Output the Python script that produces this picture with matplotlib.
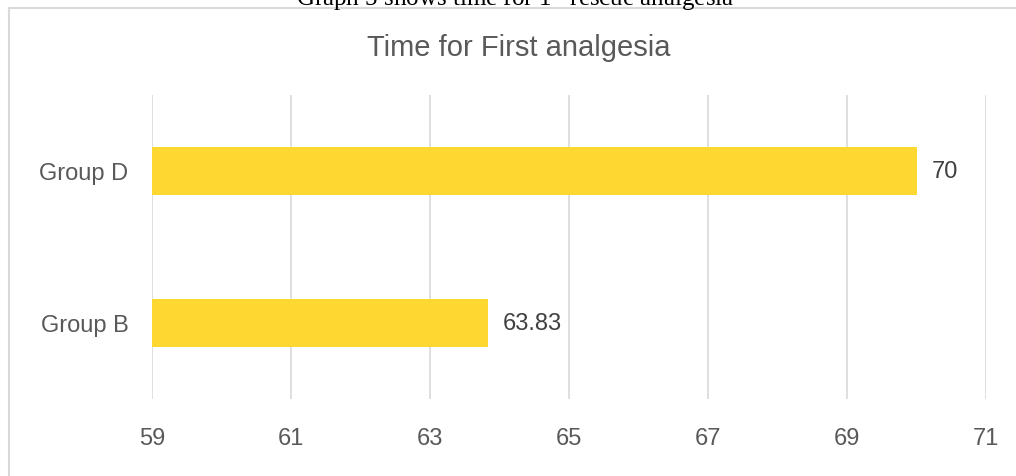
import matplotlib.pyplot as plt
from matplotlib.lines import Line2D

groups = ["Group B", "Group D"]
times = [63.83, 70]
value_labels = ["63.83", "70"]
x_ticks = [59, 61, 63, 65, 67, 69, 71]

W, H = 1016, 477
plt.rcParams["font.family"] = ["Liberation Sans", "DejaVu Sans"]
plt.rcParams["mathtext.fontset"] = "custom"
plt.rcParams["mathtext.rm"] = "Liberation Serif"
fig = plt.figure(figsize=(W / 100, H / 100), dpi=100)

# chart frame (partly cropped in the reference)
fig.add_artist(Line2D([9 / W, 9 / W], [0, 1 - 9 / H], transform=fig.transFigure,
                      color="#d9d9d9", lw=1.5))
fig.add_artist(Line2D([9 / W, 1], [1 - 9 / H, 1 - 9 / H], transform=fig.transFigure,
                      color="#d9d9d9", lw=1.5))

# caption from the document, cut off at the top in the reference
fig.text(515 / W, 1 - 6 / H, r"Graph 5 shows time for 1$^{\mathrm{st}}$ rescue analgesia",
         ha="center", va="baseline", fontsize=18, family="Liberation Serif",
         color="black")

ax = fig.add_axes([152 / W, 1 - 400 / H, (986 - 152) / W, (400 - 96) / H])
ax.barh(range(len(groups)), times, height=0.31, color="#FFD731", zorder=2)
ax.set_xlim(59, 71)
ax.set_ylim(-0.5, 1.5)
ax.set_xticks(x_ticks)
ax.set_yticks(range(len(groups)))
ax.set_yticklabels(groups)
ax.grid(axis="x", color="#d9d9d9", lw=1.2, zorder=0)
for s in ax.spines.values():
    s.set_visible(False)
ax.tick_params(length=0, labelsize=17, labelcolor="#595959")
ax.tick_params(axis="x", pad=20)
ax.tick_params(axis="y", pad=17)

for i, (v, lab) in enumerate(zip(times, value_labels)):
    ax.annotate(lab, (v, i), xytext=(11, 0), textcoords="offset points",
                ha="left", va="center", fontsize=17, color="#404040")

fig.text(519 / W, 1 - 48 / H, "Time for First analgesia", ha="center", va="center",
         fontsize=21, color="#595959")

fig.savefig("out.png", dpi=100)
